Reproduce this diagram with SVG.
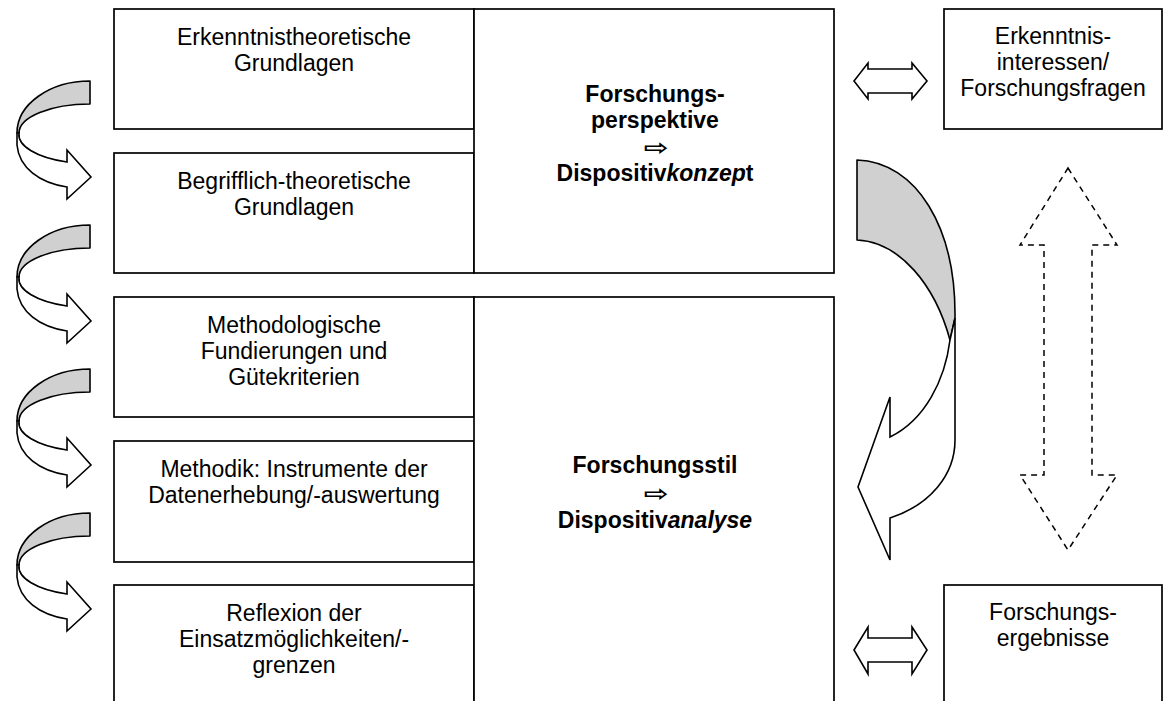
<svg xmlns="http://www.w3.org/2000/svg" xmlns:xlink="http://www.w3.org/1999/xlink" width="1164" height="701" viewBox="0 0 1164 701">
  <style>
    .box { fill: #ffffff; stroke: #000000; stroke-width: 1.7; }
    .t { font-family: "Liberation Sans", Arial, sans-serif; font-size: 23px; fill: #000000; text-anchor: middle; }
    .b { font-weight: bold; }
    .i { font-style: italic; }
    .sym { font-family: "DejaVu Sans", sans-serif; font-size: 22px; font-weight: bold; }
    .back { fill: #d0d0d0; stroke: #000000; stroke-width: 1.6; stroke-linejoin: round; }
    .front { fill: #ffffff; stroke: #000000; stroke-width: 1.6; stroke-linejoin: miter; }
    .dash { fill: none; stroke: #000000; stroke-width: 1.5; stroke-dasharray: 6 5; }
  </style>
  <defs>
    <!-- curved arrow turning from one box down to the next -->
    <g id="curl">
      <path class="back" d="M90,81 A73,52 0 0 0 17,133 L19,133 A71,29 0 0 1 90,104 Z"/>
      <path class="front" d="M17,133 L17,145 C19,168 40,183 67,187 L67,199 L91,177 L67,150 L67,162 A71,29 0 0 1 19,133 Z"/>
    </g>
  </defs>

  <rect width="1164" height="701" fill="#ffffff"/>

  <!-- left column -->
  <g id="erkenntnistheoretisch">
    <rect class="box" x="114" y="9" width="360" height="120"/>
    <text class="t" x="294" y="45">Erkenntnistheoretische</text>
    <text class="t" x="294" y="71">Grundlagen</text>
  </g>
  <g id="begrifflich">
    <rect class="box" x="114" y="153" width="360" height="120"/>
    <text class="t" x="294" y="189">Begrifflich-theoretische</text>
    <text class="t" x="294" y="215">Grundlagen</text>
  </g>
  <g id="methodologie">
    <rect class="box" x="114" y="297" width="360" height="120"/>
    <text class="t" x="294" y="333">Methodologische</text>
    <text class="t" x="294" y="359">Fundierungen und</text>
    <text class="t" x="294" y="385">Gütekriterien</text>
  </g>
  <g id="methodik">
    <rect class="box" x="114" y="441" width="360" height="121"/>
    <text class="t" x="294" y="477">Methodik: Instrumente der</text>
    <text class="t" x="294" y="503">Datenerhebung/-auswertung</text>
  </g>
  <g id="reflexion">
    <rect class="box" x="114" y="585" width="360" height="140"/>
    <text class="t" x="294" y="621">Reflexion der</text>
    <text class="t" x="294" y="647">Einsatzmöglichkeiten/-</text>
    <text class="t" x="294" y="673">grenzen</text>
  </g>

  <!-- centre column -->
  <g id="perspektive">
    <rect class="box" x="474" y="9" width="360" height="264"/>
    <text class="t b" x="655" y="102">Forschungs-</text>
    <text class="t b" x="655" y="128">perspektive</text>
    <text class="t sym" transform="translate(656,155) scale(1.35,1)">⇨</text>
    <text class="t b" x="655" y="181">Dispositiv<tspan class="i">konzep</tspan>t</text>
  </g>
  <g id="stil">
    <rect class="box" x="474" y="297" width="360" height="428"/>
    <text class="t b" x="655" y="473">Forschungsstil</text>
    <text class="t sym" transform="translate(656,501) scale(1.35,1)">⇨</text>
    <text class="t b" x="655" y="528">Dispositiv<tspan class="i">analyse</tspan></text>
  </g>

  <!-- right column -->
  <g id="interessen">
    <rect class="box" x="944" y="9" width="218" height="120"/>
    <text class="t" x="1053" y="44">Erkenntnis-</text>
    <text class="t" x="1053" y="70">interessen/</text>
    <text class="t" x="1053" y="96">Forschungsfragen</text>
  </g>
  <g id="ergebnisse">
    <rect class="box" x="944" y="585" width="218" height="140"/>
    <text class="t" x="1053" y="620">Forschungs-</text>
    <text class="t" x="1053" y="646">ergebnisse</text>
  </g>

  <!-- connectors -->
  <g id="connectors">
    <use xlink:href="#curl"/>
    <use xlink:href="#curl" transform="translate(0,144)"/>
    <use xlink:href="#curl" transform="translate(0,288)"/>
    <use xlink:href="#curl" transform="translate(0,432)"/>

    <!-- large curved arrow from the perspective box down to the style box -->
    <path class="back" d="M857,160 C917,162 956,228 955,318 L950,340 C935,285 900,242 857,240 Z"/>
    <path class="front" d="M955,318 L955,440 C955,475 930,505 890,518 L890,560 L858,487 L890,397 L890,437 C925,420 945,380 950,340 Z"/>

    <!-- double arrows to the right-hand boxes -->
    <path class="front" d="M854,81 L868,63 L868,69 L912,69 L912,63 L927,81 L912,99 L912,93 L868,93 L868,99 Z"/>
    <path class="front" d="M854,650 L868,627 L868,638 L912,638 L912,627 L927,650 L912,674 L912,662 L868,662 L868,674 Z"/>

    <!-- dashed vertical double arrow -->
    <path class="dash" d="M1068,168 L1117,245 L1092,245 L1092,475 L1117,475 L1068,550 L1020,475 L1044,475 L1044,245 L1020,245 Z"/>
  </g>
</svg>
